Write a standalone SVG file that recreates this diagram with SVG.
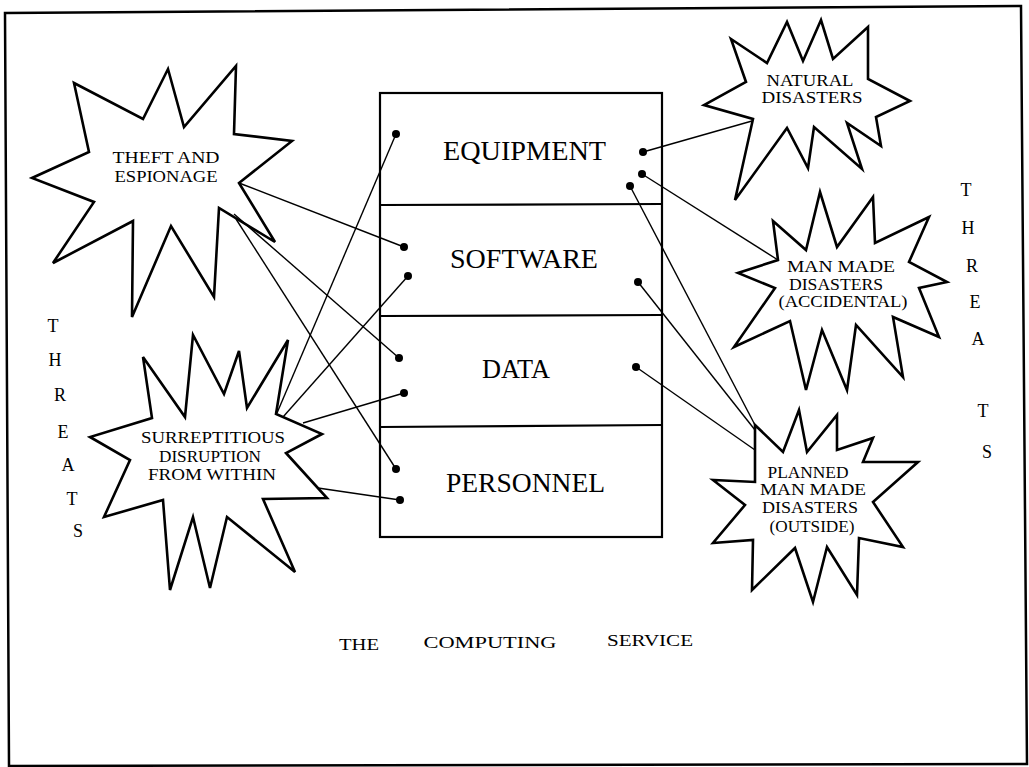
<svg xmlns="http://www.w3.org/2000/svg" width="1029" height="767" viewBox="0 0 1029 767">
<style>
.star{fill:#fff;stroke:#000;stroke-width:2.6;stroke-linejoin:miter}
.lbl{font-family:"Liberation Serif","Times New Roman",serif;font-size:16px;fill:#000;text-anchor:middle}
.big{font-family:"Liberation Serif","Times New Roman",serif;font-size:27px;fill:#000}
.thr{font-family:"Liberation Serif","Times New Roman",serif;font-size:18px;fill:#000;text-anchor:middle}
.conn line{stroke:#000;stroke-width:1.4}
.dot{fill:#000}
</style>
<rect width="1029" height="767" fill="#fff"/>
<polygon points="5,13 1021,6 1027,764 9,766" fill="none" stroke="#000" stroke-width="2.5"/>

<g id="computing-service">
<rect x="380" y="93" width="282" height="444" fill="none" stroke="#000" stroke-width="2.2"/>
<line x1="380" y1="205" x2="662" y2="204" stroke="#000" stroke-width="2.2"/>
<line x1="380" y1="316" x2="662" y2="315" stroke="#000" stroke-width="2.2"/>
<line x1="380" y1="427" x2="662" y2="425" stroke="#000" stroke-width="2.2"/>
<text class="big" x="443" y="160" textLength="163" lengthAdjust="spacingAndGlyphs">EQUIPMENT</text>
<text class="big" x="450" y="268" textLength="148" lengthAdjust="spacingAndGlyphs">SOFTWARE</text>
<text class="big" x="482" y="378" textLength="68" lengthAdjust="spacingAndGlyphs">DATA</text>
<text class="big" x="446" y="492" textLength="159" lengthAdjust="spacingAndGlyphs">PERSONNEL</text>
</g>

<g id="theft">
<polygon class="star" points="74,83 143,119 168,69 184,127 236,66 234,134 292,141 239,183 275,242 219,208 214,297 171,226 132,317 133,221 53,263 94,202 32,178 89,152"/>
<text class="lbl" x="166" y="163" textLength="107" lengthAdjust="spacingAndGlyphs">THEFT AND</text>
<text class="lbl" x="166" y="182" textLength="103" lengthAdjust="spacingAndGlyphs">ESPIONAGE</text>
</g>

<g id="surreptitious">
<polygon class="star" points="143,357 185,417 193,335 224,394 239,351 247,408 288,340 276,414 322,434 286,453 327,498 263,499 295,572 227,517 210,588 193,517 170,590 163,500 104,517 130,460 90,437 152,418"/>
<text class="lbl" x="213" y="443" textLength="144" lengthAdjust="spacingAndGlyphs">SURREPTITIOUS</text>
<text class="lbl" x="210" y="462" textLength="102" lengthAdjust="spacingAndGlyphs">DISRUPTION</text>
<text class="lbl" x="212" y="480" textLength="128" lengthAdjust="spacingAndGlyphs">FROM  WITHIN</text>
</g>

<g id="natural">
<polygon class="star" points="731,39 767,63 787,22 803,61 821,20 833,59 868,27 868,79 910,101 876,117 881,146 847,123 862,169 814,127 808,168 787,128 735,200 753,119 704,105 746,82"/>
<text class="lbl" x="810" y="86" textLength="87" lengthAdjust="spacingAndGlyphs">NATURAL</text>
<text class="lbl" x="812" y="103" textLength="101" lengthAdjust="spacingAndGlyphs">DISASTERS</text>
</g>

<g id="man-made-accidental">
<polygon class="star" points="773,221 806,250 820,192 837,247 873,197 875,243 929,217 909,262 947,282 919,288 939,337 893,317 903,377 856,325 847,390 822,330 806,390 790,321 734,347 775,288 738,273 778,260"/>
<text class="lbl" x="841" y="272" textLength="108" lengthAdjust="spacingAndGlyphs">MAN  MADE</text>
<text class="lbl" x="836" y="290" textLength="94" lengthAdjust="spacingAndGlyphs">DISASTERS</text>
<text class="lbl" x="843" y="307" textLength="129" lengthAdjust="spacingAndGlyphs">(ACCIDENTAL)</text>
</g>

<g id="planned">
<polygon class="star" points="755,425 783,452 799,410 807,452 837,415 837,450 873,438 863,462 918,462 873,502 903,547 859,538 857,595 827,547 813,602 795,548 752,590 753,540 713,543 745,505 713,480 755,482"/>
<text class="lbl" x="808" y="478" textLength="81" lengthAdjust="spacingAndGlyphs">PLANNED</text>
<text class="lbl" x="813" y="495" textLength="106" lengthAdjust="spacingAndGlyphs">MAN  MADE</text>
<text class="lbl" x="810" y="513" textLength="96" lengthAdjust="spacingAndGlyphs">DISASTERS</text>
<text class="lbl" x="812" y="532" textLength="85" lengthAdjust="spacingAndGlyphs">(OUTSIDE)</text>
</g>

<g id="connectors" class="conn">
<line x1="239" y1="183" x2="404" y2="247"/>
<line x1="234" y1="214" x2="399" y2="358"/>
<line x1="236" y1="219" x2="396" y2="469"/>
<line x1="277" y1="413" x2="396" y2="134"/>
<line x1="283" y1="417" x2="408" y2="276"/>
<line x1="303" y1="423" x2="404" y2="393"/>
<line x1="318" y1="488" x2="400" y2="500"/>
<line x1="643" y1="152" x2="752" y2="121"/>
<line x1="642" y1="174" x2="778" y2="260"/>
<line x1="630" y1="186" x2="755" y2="425"/>
<line x1="638" y1="282" x2="755" y2="430"/>
<line x1="636" y1="367" x2="755" y2="450"/>
<circle class="dot" cx="396" cy="134" r="4"/>
<circle class="dot" cx="643" cy="152" r="4"/>
<circle class="dot" cx="642" cy="174" r="4"/>
<circle class="dot" cx="630" cy="186" r="4"/>
<circle class="dot" cx="404" cy="247" r="4"/>
<circle class="dot" cx="408" cy="276" r="4"/>
<circle class="dot" cx="638" cy="282" r="4"/>
<circle class="dot" cx="399" cy="358" r="4"/>
<circle class="dot" cx="404" cy="393" r="4"/>
<circle class="dot" cx="636" cy="367" r="4"/>
<circle class="dot" cx="396" cy="469" r="4"/>
<circle class="dot" cx="400" cy="500" r="4"/>
</g>

<g id="threats-left" class="thr">
<text x="53" y="332">T</text>
<text x="55" y="366">H</text>
<text x="60" y="401">R</text>
<text x="63" y="438">E</text>
<text x="68" y="471">A</text>
<text x="72" y="505">T</text>
<text x="78" y="537">S</text>
</g>
<g id="threats-right" class="thr">
<text x="966" y="196">T</text>
<text x="968" y="234">H</text>
<text x="972" y="272">R</text>
<text x="975" y="308">E</text>
<text x="978" y="345">A</text>
<text x="983" y="417">T</text>
<text x="987" y="458">S</text>
</g>

<g id="title">
<text class="lbl" x="359" y="650" font-size="17" textLength="40" lengthAdjust="spacingAndGlyphs">THE</text>
<text class="lbl" x="490" y="648" font-size="17" textLength="133" lengthAdjust="spacingAndGlyphs">COMPUTING</text>
<text class="lbl" x="650" y="646" font-size="17" textLength="86" lengthAdjust="spacingAndGlyphs">SERVICE</text>
</g>
</svg>
